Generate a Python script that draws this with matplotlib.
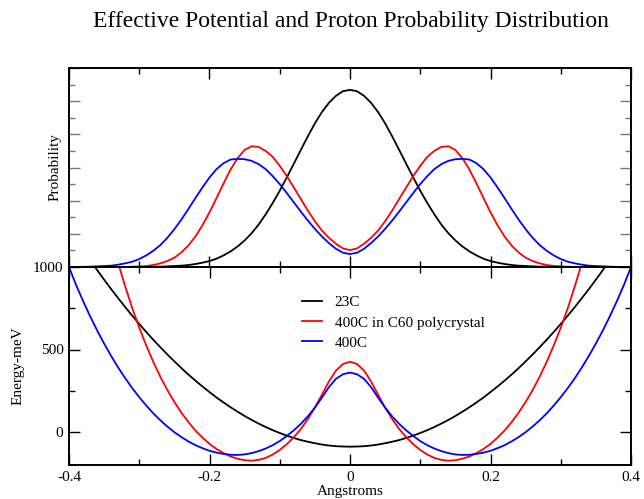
import numpy as np
import matplotlib.pyplot as plt
from matplotlib.ticker import MultipleLocator

plt.rcParams['font.family'] = ['Liberation Serif', 'DejaVu Serif']
plt.rcParams['axes.unicode_minus'] = False

# sample positions (Angstroms), every 0.01
x = np.linspace(-0.4, 0.4, 81)

# probability (arbitrary units), top panel
prob_23c = [0, 0, 0, 0, 0, 0, 0, 0, 0, 0, 0, 0, 0.01, 0.01, 0.02, 0.03, 0.04, 0.06, 0.09, 0.13,
            0.18, 0.25, 0.35, 0.47, 0.62, 0.80, 1.02, 1.28, 1.59, 1.93, 2.30, 2.70, 3.11, 3.53, 3.94, 4.33,
            4.67, 4.95, 5.16, 5.30,
            5.34,
            5.30, 5.16, 4.95, 4.67, 4.33, 3.94, 3.53, 3.11, 2.70, 2.30, 1.93, 1.59, 1.28, 1.02, 0.80, 0.62,
            0.47, 0.35, 0.25, 0.18, 0.13, 0.09, 0.06, 0.04, 0.03, 0.02, 0.01, 0.01, 0, 0, 0, 0, 0, 0, 0, 0,
            0, 0, 0, 0]
prob_c60 = [0, 0, 0, 0, 0, 0, 0, 0, 0, 0.01, 0.02, 0.03, 0.06, 0.11, 0.18, 0.28, 0.44, 0.65, 0.92, 1.26,
            1.65, 2.08, 2.52, 2.94, 3.28, 3.53, 3.64, 3.62, 3.50, 3.32, 3.05, 2.74, 2.40, 2.05, 1.70, 1.38,
            1.10, 0.88, 0.70, 0.56,
            0.51,
            0.56, 0.70, 0.88, 1.10, 1.38, 1.70, 2.05, 2.40, 2.74, 3.05, 3.32, 3.50, 3.62, 3.64, 3.53, 3.28,
            2.94, 2.52, 2.08, 1.65, 1.26, 0.92, 0.65, 0.44, 0.28, 0.18, 0.11, 0.06, 0.03, 0.02, 0.01, 0, 0,
            0, 0, 0, 0, 0, 0, 0]
prob_400c = [0, 0, 0.005, 0.01, 0.02, 0.03, 0.04, 0.07, 0.11, 0.16, 0.24, 0.35, 0.49, 0.66, 0.88, 1.14,
             1.43, 1.75, 2.08, 2.40, 2.70, 2.95, 3.13, 3.24, 3.26, 3.25, 3.20, 3.10, 2.95, 2.74, 2.50, 2.23,
             1.95, 1.67, 1.40, 1.15, 0.92, 0.72, 0.55, 0.43,
             0.39,
             0.43, 0.55, 0.72, 0.92, 1.15, 1.40, 1.67, 1.95, 2.23, 2.50, 2.74, 2.95, 3.10, 3.20, 3.25, 3.26,
             3.24, 3.13, 2.95, 2.70, 2.40, 2.08, 1.75, 1.43, 1.14, 0.88, 0.66, 0.49, 0.35, 0.24, 0.16, 0.11,
             0.07, 0.04, 0.03, 0.02, 0.01, 0.005, 0, 0]

# effective potential (meV), bottom panel
pot_23c = [1233, 1168, 1104, 1042, 982, 923, 866, 811, 757, 705, 655, 606, 559, 514, 470, 428, 387, 348,
           311, 276, 242, 209, 179, 150, 123, 97, 73, 51, 30, 11, -6, -22, -36, -49, -59, -68, -76, -82,
           -86, -88,
           -89,
           -88, -86, -82, -76, -68, -59, -49, -36, -22, -6, 11, 30, 51, 73, 97, 123, 150, 179, 209, 242,
           276, 311, 348, 387, 428, 470, 514, 559, 606, 655, 705, 757, 811, 866, 923, 982, 1042, 1104,
           1168, 1233]
pot_c60 = [2390, 2150, 1930, 1720, 1528, 1346, 1178, 1024, 882, 751, 632, 524, 425, 335, 254, 182, 117,
           60, 9, -34, -72, -103, -128, -148, -162, -171, -174, -169, -157, -137, -109, -74, -32, 18, 78,
           148, 226, 306, 372, 412,
           426,
           412, 372, 306, 226, 148, 78, 18, -32, -74, -109, -137, -157, -169, -174, -171, -162, -148, -128,
           -103, -72, -34, 9, 60, 117, 182, 254, 335, 425, 524, 632, 751, 882, 1024, 1178, 1346, 1528,
           1720, 1930, 2150, 2390]
pot_400c = [1000, 892, 794, 702, 616, 536, 461, 391, 326, 266, 211, 160, 113, 71, 33, -1, -31, -57, -80,
            -98, -114, -125, -133, -138, -139, -136, -128, -116, -100, -80, -55, -24, 10, 49, 95, 148, 208,
            272, 322, 350,
            360,
            350, 322, 272, 208, 148, 95, 49, 10, -24, -55, -80, -100, -116, -128, -136, -139, -138, -133,
            -125, -114, -98, -80, -57, -31, -1, 33, 71, 113, 160, 211, 266, 326, 391, 461, 536, 616, 702,
            794, 892, 1000]

labels = ['23C', '400C in C60 polycrystal', '400C']
colors = ['black', '#ff0000', '#0000ff']

W, H = 644, 499
fig = plt.figure(figsize=(W / 100, H / 100), dpi=100)
ax_top = fig.add_axes([69 / W, 1 - 267 / H, 562 / W, 199 / H])
ax_bot = fig.add_axes([69 / W, 1 - 465 / H, 562 / W, 198 / H])

for p, c in zip([prob_23c, prob_c60, prob_400c], colors):
    ax_top.plot(x, p, color=c, lw=1.3)
for v, c, lab in zip([pot_23c, pot_c60, pot_400c], colors, labels):
    ax_bot.plot(x, v, color=c, lw=1.3, label=lab)

for ax in (ax_top, ax_bot):
    ax.set_xlim(-0.4, 0.4)
    ax.xaxis.set_major_locator(MultipleLocator(0.2))
    ax.xaxis.set_minor_locator(MultipleLocator(0.1))
    ax.tick_params(which='both', direction='in', top=True, right=True, labelsize=11, pad=4)
    ax.tick_params(which='major', length=8, width=1)
    ax.tick_params(which='minor', length=4, width=1)
    for s in ax.spines.values():
        s.set_linewidth(1.4)

ax_top.set_ylim(0, 6)
ax_top.yaxis.set_major_locator(MultipleLocator(1))
ax_top.yaxis.set_minor_locator(MultipleLocator(0.5))
ax_top.tick_params(axis='y', which='both', color='#777777')
ax_top.tick_params(labelbottom=False, labelleft=False)
ax_top.set_ylabel('Probability', fontsize=11)
ax_top.yaxis.set_label_coords(-0.0125, 0.5)

ax_bot.set_ylim(-200, 1000)
ax_bot.yaxis.set_major_locator(MultipleLocator(500))
ax_bot.yaxis.set_minor_locator(MultipleLocator(250))
ax_bot.set_xticks([-0.4, -0.2, 0, 0.2, 0.4])
ax_bot.set_xticklabels(['-0.4', '-0.2', '0', '0.2', '0.4'])
ax_bot.set_ylabel('Energy-meV', fontsize=11)
ax_bot.yaxis.set_label_coords(-0.08, 0.5)
ax_bot.set_xlabel('Angstroms', fontsize=11)
ax_bot.xaxis.set_label_coords(0.5, -0.10)

ax_bot.legend(loc='upper left', bbox_to_anchor=(288 / W, 1 - 282 / H), bbox_transform=fig.transFigure,
              frameon=False, fontsize=11, handlelength=1.3, handletextpad=0.85, labelspacing=0.42)

fig.text(351 / W, 1 - 22 / H, 'Effective Potential and Proton Probability Distribution',
         ha='center', va='center', fontsize=17)

fig.savefig('out.png', dpi=100)
